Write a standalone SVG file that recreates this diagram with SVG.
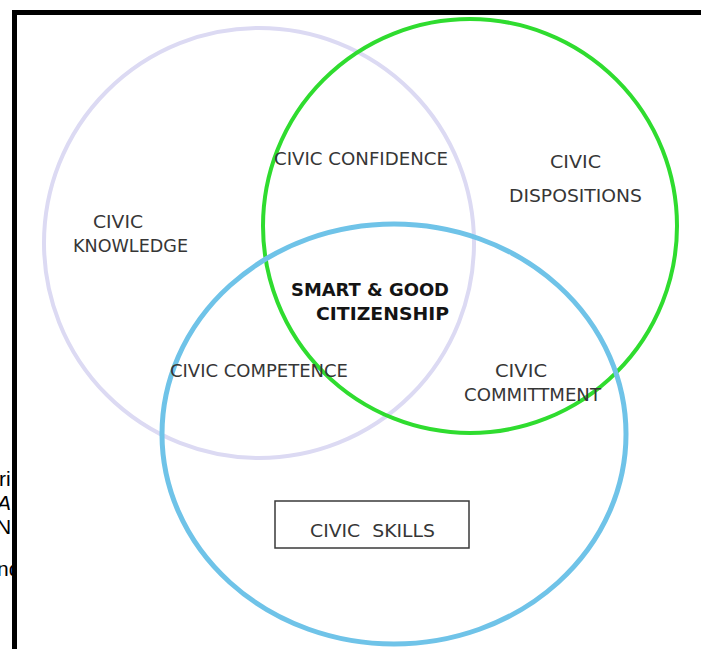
<svg xmlns="http://www.w3.org/2000/svg" width="701" height="649" viewBox="0 0 701 649">
  <defs>
    <style>
      .lbl { font-family: "DejaVu Sans", "Liberation Sans", sans-serif; font-size: 17px; fill: #363636; }
      .core { font-family: "DejaVu Sans", "Liberation Sans", sans-serif; font-size: 17px; font-weight: bold; fill: #141414; }
      .side { font-family: "Liberation Sans", "DejaVu Sans", sans-serif; font-size: 21px; fill: #000; }
      .ring { fill: none; }
    </style>
    <clipPath id="leftStrip">
      <rect x="0" y="0" width="13" height="649"/>
    </clipPath>
  </defs>

  <rect width="701" height="649" fill="#ffffff"/>

  <!-- text running in from the neighbouring column -->
  <g clip-path="url(#leftStrip)">
    <text class="side" x="-1" y="486">ri</text>
    <text class="side" x="-3" y="510" font-style="italic">A</text>
    <text class="side" x="-4" y="534">N</text>
    <text class="side" x="-3" y="576">nd</text>
  </g>

  <!-- frame -->
  <g id="frame" fill="#000">
    <rect x="12" y="10" width="689" height="5"/>
    <rect x="12" y="10" width="5" height="639"/>
  </g>

  <!-- the three overlapping sets -->
  <g id="sets">
    <g id="set-knowledge">
      <circle class="ring" cx="259" cy="243" r="215" stroke="#dcdaf3" stroke-width="4"/>
    </g>
    <g id="set-dispositions">
      <circle class="ring" cx="470" cy="226" r="207" stroke="#2fdc2f" stroke-width="4"/>
    </g>
    <g id="set-skills">
      <ellipse class="ring" cx="394" cy="434" rx="232" ry="210" stroke="#6fc3e8" stroke-width="5"/>
    </g>
  </g>

  <!-- region labels -->
  <g id="label-knowledge">
    <text class="lbl" x="93" y="228" textLength="50" lengthAdjust="spacingAndGlyphs">CIVIC</text>
    <text class="lbl" x="73" y="252" textLength="115" lengthAdjust="spacingAndGlyphs">KNOWLEDGE</text>
  </g>
  <g id="label-dispositions">
    <text class="lbl" x="550" y="168" textLength="51" lengthAdjust="spacingAndGlyphs">CIVIC</text>
    <text class="lbl" x="509" y="202" textLength="133" lengthAdjust="spacingAndGlyphs">DISPOSITIONS</text>
  </g>
  <g id="label-confidence">
    <text class="lbl" x="274" y="165" textLength="174" lengthAdjust="spacingAndGlyphs">CIVIC CONFIDENCE</text>
  </g>
  <g id="label-core">
    <text class="core" x="291" y="296" textLength="158" lengthAdjust="spacingAndGlyphs">SMART &amp; GOOD</text>
    <text class="core" x="316" y="320" textLength="133" lengthAdjust="spacingAndGlyphs">CITIZENSHIP</text>
  </g>
  <g id="label-competence">
    <text class="lbl" x="170" y="377" textLength="178" lengthAdjust="spacingAndGlyphs">CIVIC COMPETENCE</text>
  </g>
  <g id="label-commitment">
    <text class="lbl" x="495" y="377" textLength="52" lengthAdjust="spacingAndGlyphs">CIVIC</text>
    <text class="lbl" x="464" y="401" textLength="137" lengthAdjust="spacingAndGlyphs">COMMITTMENT</text>
  </g>
  <g id="label-skills">
    <rect x="275" y="501" width="194" height="47" fill="#ffffff" stroke="#3a3a3a" stroke-width="1.5"/>
    <text class="lbl" x="310" y="537" textLength="125" lengthAdjust="spacingAndGlyphs" xml:space="preserve">CIVIC  SKILLS</text>
  </g>
</svg>
